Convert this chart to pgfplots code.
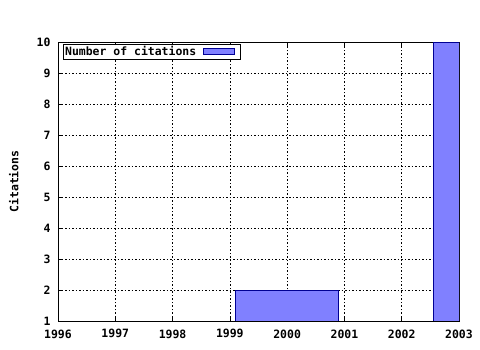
\documentclass[border=0pt]{standalone}
\usepackage{pgfplots}
\pgfplotsset{compat=1.18}
\usepackage{fontspec}
\setmainfont{DejaVu Sans Mono}
\definecolor{barfill}{RGB}{128,128,255}
\definecolor{barline}{RGB}{0,0,148}
\begin{document}
\begin{tikzpicture}
\path[use as bounding box] (-58bp,-29bp) rectangle (422bp,321bp);
\begin{axis}[
  at={(0,0)}, anchor=south west,
  scale only axis, width=401bp, height=279bp,
  xmin=1996, xmax=2003, ymin=1, ymax=10,
  xtick={1996,...,2003}, ytick={1,...,10},
  minor x tick num=3,
  tick align=inside,
  major tick length=5bp, minor tick length=3bp,
  grid=major,
  major grid style={black, dash pattern=on 1.5bp off 2bp, line width=0.6bp},
  axis line style={black, line width=0.8bp},
  every tick/.style={black, line width=0.6bp},
  /pgf/number format/1000 sep={},
  /pgf/number format/assume math mode=true,
  tick label style={font=\fontsize{11.5}{13}\selectfont\bfseries},
  xticklabel style={yshift=-5bp},
  yticklabel style={xshift=-4bp},
  ylabel={Citations},
  ylabel style={font=\fontsize{11.5}{13}\selectfont\bfseries, at={(axis description cs:-0.11,0.5)}, anchor=center},
  legend style={at={(axis cs:1996.09,9.93)}, anchor=north west, draw=black, line width=0.6bp,
    font=\fontsize{11.5}{12}\selectfont\bfseries, inner sep=0bp, outer sep=0pt,
    legend cell align=left, row sep=0pt},
  legend plot pos=right,
  legend image code/.code={\path[draw=none, fill=none] (0bp,0bp) -- (42bp,0bp); \draw[fill=barfill, draw=barline, line width=0.8bp] (5bp,-3bp) rectangle (36bp,3bp);},
]
\addplot[fill=barfill, draw=barline, line width=0.8bp] coordinates {(1999.09,1) (1999.09,2) (2000.89,2) (2000.89,1)} -- cycle;
\addlegendentry{Number of citations}
\addplot[fill=barfill, draw=barline, line width=0.8bp, forget plot] coordinates {(2002.55,1) (2002.55,10) (2003.45,10) (2003.45,1)} -- cycle;
\end{axis}
\end{tikzpicture}
\end{document}
